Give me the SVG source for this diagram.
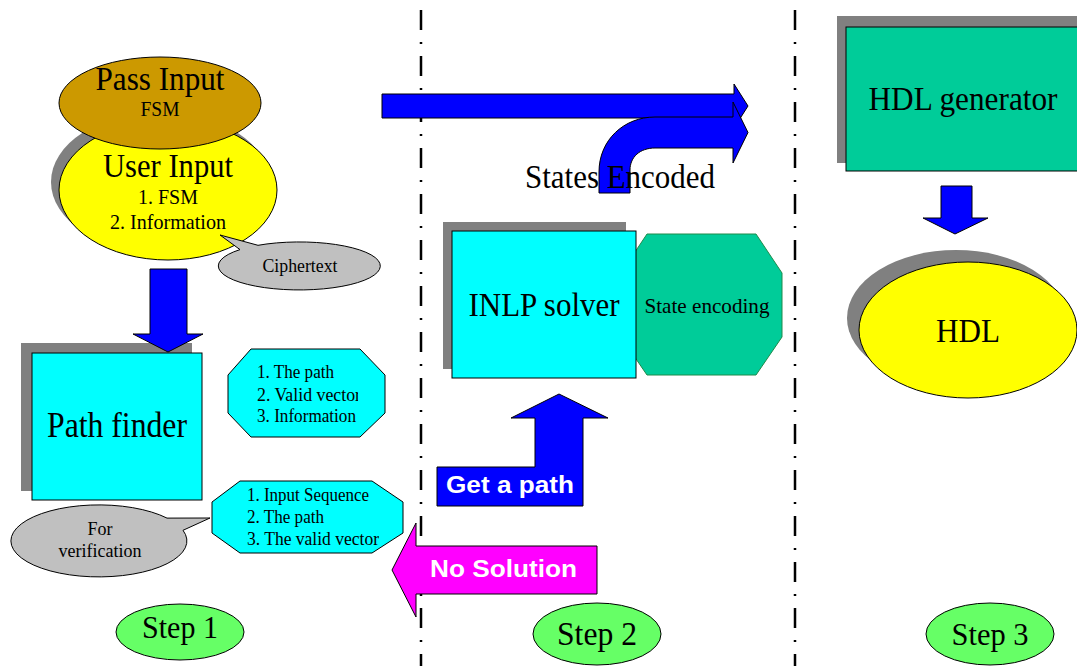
<svg xmlns="http://www.w3.org/2000/svg" width="1077" height="666" viewBox="0 0 1077 666">
  <defs>
    <style>
      .t { font-family: "Liberation Serif", "Times New Roman", serif; fill: #000; }
      .tb { font-family: "Liberation Sans", Arial, sans-serif; font-weight: bold; fill: #fff; }
      .shadow { fill: #808080; stroke: none; }
      .blue { fill: #0000FF; stroke: #000; stroke-width: 1; }
      .cyan { fill: #00FFFF; stroke: #000; stroke-width: 1; }
      .teal { fill: #00CC99; stroke: #000; stroke-width: 1; }
      .step { fill: #66FF66; stroke: #000; stroke-width: 1; }
      .note { fill: #C0C0C0; stroke: #000; stroke-width: 1; }
      .divider { fill: none; stroke: #000; stroke-width: 2.5; stroke-dasharray: 20 12 2 12; }
    </style>
    <clipPath id="clip-oct1"><rect x="228" y="349" width="130" height="90"/></clipPath>
    <clipPath id="clip-oct2"><rect x="212" y="481" width="167" height="74"/></clipPath>
  </defs>
  <rect width="1077" height="666" fill="#fff"/>

  <!-- stage dividers -->
  <g id="dividers">
    <line class="divider" x1="421" y1="10" x2="421" y2="666"/>
    <line class="divider" x1="795" y1="10" x2="795" y2="666"/>
  </g>

  <!-- Step 1 -->
  <g id="user-input">
    <ellipse class="shadow" cx="160" cy="182" rx="109" ry="70"/>
    <ellipse cx="168" cy="190" rx="109" ry="70" fill="#FFFF00" stroke="#000" stroke-width="1"/>
    <text class="t" x="168" y="177" font-size="34" text-anchor="middle" textLength="130" lengthAdjust="spacingAndGlyphs">User Input</text>
    <text class="t" x="168" y="204" font-size="21" text-anchor="middle" textLength="60" lengthAdjust="spacingAndGlyphs">1. FSM</text>
    <text class="t" x="168" y="229" font-size="21" text-anchor="middle" textLength="116" lengthAdjust="spacingAndGlyphs">2. Information</text>
  </g>

  <g id="pass-input">
    <ellipse cx="160" cy="103" rx="101" ry="46" fill="#CC9900" stroke="#000" stroke-width="1"/>
    <text class="t" x="160" y="90" font-size="34" text-anchor="middle" textLength="129" lengthAdjust="spacingAndGlyphs">Pass Input</text>
    <text class="t" x="160" y="116" font-size="21" text-anchor="middle" textLength="39" lengthAdjust="spacingAndGlyphs">FSM</text>
  </g>

  <g id="ciphertext">
    <path class="note" d="M240,249.6 L220,235 L258,245.3 A81,24 0 1,1 240,249.6 Z"/>
    <text class="t" x="300" y="272" font-size="18" text-anchor="middle" textLength="75" lengthAdjust="spacingAndGlyphs">Ciphertext</text>
  </g>

  <g id="path-finder">
    <rect class="shadow" x="21" y="343" width="171" height="148"/>
    <rect class="cyan" x="32" y="353" width="170" height="147"/>
    <text class="t" x="117" y="437" font-size="35" text-anchor="middle" textLength="140" lengthAdjust="spacingAndGlyphs">Path finder</text>
  </g>

  <g id="path-output">
    <polygon class="cyan" points="251,349 360,349 385,375 385,413 360,437 251,437 228,413 228,375"/>
    <g clip-path="url(#clip-oct1)">
      <text class="t" x="257" y="378" font-size="18" textLength="77" lengthAdjust="spacingAndGlyphs">1. The path</text>
      <text class="t" x="257" y="401" font-size="18" textLength="104" lengthAdjust="spacingAndGlyphs">2. Valid vector</text>
      <text class="t" x="257" y="422" font-size="18" textLength="99" lengthAdjust="spacingAndGlyphs">3. Information</text>
    </g>
  </g>

  <g id="verification-data">
    <polygon class="cyan" points="240,481 372,481 403,502 403,533 372,553 240,553 212,533 212,502"/>
    <g clip-path="url(#clip-oct2)">
      <text class="t" x="247" y="501" font-size="18" textLength="122" lengthAdjust="spacingAndGlyphs">1. Input Sequence</text>
      <text class="t" x="247" y="523" font-size="18" textLength="77" lengthAdjust="spacingAndGlyphs">2. The path</text>
      <text class="t" x="247" y="545" font-size="18" textLength="132" lengthAdjust="spacingAndGlyphs">3. The valid vector</text>
    </g>
  </g>

  <g id="for-verification">
    <path class="note" d="M167,518.1 L210,518 L183,530.3 A88,36 0 1,1 167,518.1 Z"/>
    <text class="t" x="100" y="535" font-size="18" text-anchor="middle">For</text>
    <text class="t" x="100" y="557" font-size="18" text-anchor="middle" textLength="83" lengthAdjust="spacingAndGlyphs">verification</text>
  </g>

  <g id="step1">
    <ellipse class="step" cx="180" cy="632" rx="64" ry="28"/>
    <text class="t" x="180" y="638" font-size="32" text-anchor="middle" textLength="76" lengthAdjust="spacingAndGlyphs">Step 1</text>
  </g>

  <!-- Step 2 -->
  <g id="state-encoding">
    <polygon points="647,234 756,234 782,273 782,337 756,375 647,375 621,337 621,273" fill="#00CC99" stroke="#1E8A4A" stroke-width="1"/>
    <text class="t" x="707" y="313" font-size="22" text-anchor="middle" textLength="125" lengthAdjust="spacingAndGlyphs">State encoding</text>
  </g>

  <g id="inlp-solver">
    <rect class="shadow" x="443" y="222" width="183" height="147"/>
    <rect class="cyan" x="452" y="231" width="184" height="147"/>
    <text class="t" x="544" y="316" font-size="34" text-anchor="middle" textLength="151" lengthAdjust="spacingAndGlyphs">INLP solver</text>
  </g>

  <g id="step2">
    <ellipse class="step" cx="597" cy="634" rx="64" ry="31"/>
    <text class="t" x="597" y="645" font-size="33" text-anchor="middle" textLength="80" lengthAdjust="spacingAndGlyphs">Step 2</text>
  </g>

  <!-- Step 3 -->
  <g id="hdl-generator">
    <rect class="shadow" x="837" y="16" width="260" height="147"/>
    <rect class="teal" x="846" y="27" width="260" height="144"/>
    <text class="t" x="963" y="110" font-size="33" text-anchor="middle" textLength="189" lengthAdjust="spacingAndGlyphs">HDL generator</text>
  </g>

  <g id="hdl">
    <ellipse class="shadow" cx="956" cy="318" rx="109" ry="68"/>
    <ellipse cx="968" cy="330" rx="109" ry="68" fill="#FFFF00" stroke="#000" stroke-width="1"/>
    <text class="t" x="968" y="342" font-size="33" text-anchor="middle" textLength="64" lengthAdjust="spacingAndGlyphs">HDL</text>
  </g>

  <g id="step3">
    <ellipse class="step" cx="990" cy="634" rx="64" ry="31"/>
    <text class="t" x="990" y="645" font-size="32" text-anchor="middle" textLength="77" lengthAdjust="spacingAndGlyphs">Step 3</text>
  </g>

  <!-- block arrows between stages -->
  <g id="connectors">
    <path class="blue" d="M150,269 L187,269 L187,334 L203,334 L168,352 L133,334 L150,334 Z"/>
    <path class="blue" d="M941,186 L972,186 L972,218 L988,218 L955,234 L923,218 L941,218 Z"/>
    <path class="blue" d="M382,94 L734,94 L734,84 L748,106 L734,128 L734,118 L382,118 Z"/>
    <path class="blue" d="M599,193 L599,172 C599,140 624,117 655,117 L733,117 L733,102 L748,132.5 L733,163 L733,148 L655,148 C640,148 630,157 630,170 L630,193 Z"/>
    <text class="t" x="525" y="188" font-size="33" textLength="190" lengthAdjust="spacingAndGlyphs">States Encoded</text>
    <path class="blue" d="M437,467 L535,467 L535,418 L511,418 L559,394 L608,418 L583,418 L583,506 L437,506 Z"/>
    <text class="tb" x="446" y="493" font-size="24" textLength="128" lengthAdjust="spacingAndGlyphs">Get a path</text>
    <path d="M597,546 L416,546 L416,523 L392,570 L416,617 L416,594 L597,594 Z" fill="#FF00FF" stroke="#000" stroke-width="1"/>
    <text class="tb" x="430" y="577" font-size="24" textLength="147" lengthAdjust="spacingAndGlyphs">No Solution</text>
  </g>
</svg>
